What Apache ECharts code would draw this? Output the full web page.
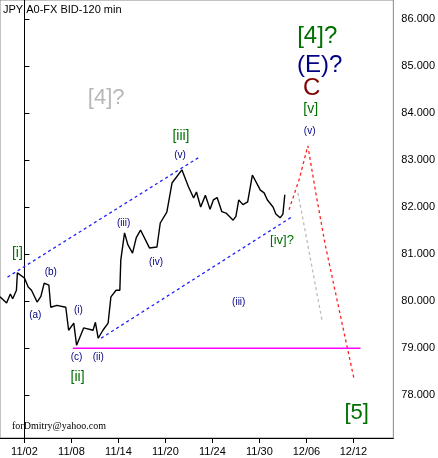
<!DOCTYPE html>
<html><head><meta charset="utf-8">
<script src="https://cdn.jsdelivr.net/npm/echarts@6/dist/echarts.min.js"></script>
<style>html,body{margin:0;padding:0;background:#fff}#c{width:438px;height:458px}</style>
</head><body><div id="c"></div>
<script>
// x is in "date label slots": 0 = 11/02, 1 = 11/08, ...
const dateLabels = ['11/02', '11/08', '11/14', '11/20', '11/24', '11/30', '12/06', '12/12']
const priceTicks = [78, 79, 80, 81, 82, 83, 84, 85, 86]

const priceX = [-0.52,-0.38,-0.3,-0.25,-0.17,-0.15,0,0.08,0.15,0.27,0.35,0.42,0.52,0.56,0.69,0.88,0.94,1.05,1.11,1.26,1.46,1.51,1.57,1.67,1.78,1.84,1.95,2.03,2.05,2.13,2.2,2.30,2.38,2.47,2.66,2.82,2.89,3.03,3.14,3.35,3.49,3.60,3.66,3.75,3.85,3.95,4.02,4.1,4.2,4.29,4.44,4.5,4.56,4.65,4.75,4.85,5.02,5.1,5.17,5.29,5.35,5.44,5.50,5.54]
const priceY = [80.09,79.96,80.15,80.05,80.23,80.6,80.49,80.3,80.23,79.98,80.1,80.38,80.34,79.87,79.91,79.87,79.38,79.53,79.06,79.43,79.38,79.55,79.21,79.38,79.53,80.09,80.23,80.23,80.87,81.45,81.2,81.02,81.35,81.51,81.13,81.15,81.66,81.89,82.51,82.79,82.43,82.19,82.32,82.0,82.25,81.95,82.15,82.2,81.9,81.87,81.72,81.8,82.15,82.05,82.11,82.68,82.36,82.3,82.15,82.0,81.85,81.77,81.85,82.26]

const upperChannel = [[-0.36, 80.51], [3.72, 83.06]]
const lowerChannel = [[1.63, 79.21], [5.69, 81.79]]
const supportLine = [[1.03, 79.0], [7.15, 79.0]]
const redPath = [[5.63,81.94],[5.85,82.6],[6.03,83.3],[6.2,82.3],[6.4,81.2],[6.7,79.8],[7.01,78.36]]
const grayPath = [[5.82, 82.3], [6.34, 79.55]]

const GREEN = '#007000', NAVY = '#000080', GRAY = '#b8b8b8', DARKRED = '#800000'
const waveLabels = [
  ['[i]', -0.15, 81.02, GREEN, 14],
  ['(a)', 0.23, 79.70, NAVY, 10],
  ['(b)', 0.56, 80.62, NAVY, 10],
  ['(c)', 1.11, 78.81, NAVY, 10],
  ['[ii]', 1.13, 78.38, GREEN, 14],
  ['(i)', 1.15, 79.81, NAVY, 10],
  ['(ii)', 1.57, 78.81, NAVY, 10],
  ['(iii)', 2.11, 81.66, NAVY, 10],
  ['(iv)', 2.80, 80.83, NAVY, 10],
  ['(v)', 3.31, 83.09, NAVY, 10],
  ['[iii]', 3.33, 83.51, GREEN, 14],
  ['[4]?', 1.74, 84.32, GRAY, 22],
  ['(iii)', 4.56, 79.98, NAVY, 10],
  ['[iv]?', 5.48, 81.28, GREEN, 13],
  ['(v)', 6.07, 83.62, NAVY, 10],
  ['[v]', 6.09, 84.09, GREEN, 14],
  ['C', 6.11, 84.53, DARKRED, 24],
  ['(E)?', 6.28, 85.02, NAVY, 24],
  ['[4]?', 6.23, 85.62, GREEN, 24],
  ['[5]', 7.07, 77.62, GREEN, 22]
]

const chart = echarts.init(document.getElementById('c'))
const dashed = (data, color) => ({
  type: 'line', data, symbol: 'none', silent: true,
  lineStyle: { color, width: 1.3, type: [3, 3] }
})
chart.setOption({
  animation: false,
  textStyle: { fontFamily: 'Liberation Sans' },
  grid: { left: 0, top: 0, right: 38, bottom: 20, show: true, borderColor: '#888', borderWidth: 1 },
  xAxis: {
    type: 'value', min: -0.52, max: 7.85,
    splitLine: { show: false },
    axisLine: { lineStyle: { color: '#000' } },
    axisTick: { customValues: [0,1,2,3,4,5,6,7], lineStyle: { color: '#000' } },
    axisLabel: { customValues: [0,1,2,3,4,5,6,7], color: '#000', fontSize: 11,
      formatter: v => dateLabels[Math.round(v)] }
  },
  yAxis: {
    type: 'value', position: 'right', min: 77.09, max: 86.4,
    splitLine: { show: false },
    axisLine: { show: true, lineStyle: { color: '#000' } },
    axisTick: { customValues: priceTicks, lineStyle: { color: '#000' } },
    axisLabel: { customValues: priceTicks, color: '#000', fontSize: 11,
      formatter: v => v.toFixed(3) }
  },
  graphic: [
    { type: 'text', left: 3, top: 4, style: { text: 'JPY A0-FX BID-120 min', font: '11px Liberation Sans', fill: '#000' } },
    { type: 'text', left: 12, top: 421, style: { text: 'forDmitry@yahoo.com', font: '10px Liberation Serif', fill: '#000' } }
  ],
  series: [
    { type: 'line', data: priceX.map((x, i) => [x, priceY[i]]), symbol: 'none',
      lineStyle: { color: '#000', width: 1.4 } },
    dashed(upperChannel, '#2020ff'),
    dashed(lowerChannel, '#2020ff'),
    dashed(redPath, '#ff2020'),
    dashed(grayPath, '#bbb'),
    { type: 'line', data: supportLine, symbol: 'none', lineStyle: { color: '#ff00ff', width: 1.5 } },
    { type: 'scatter', symbolSize: 0, silent: true, z: 10,
      data: waveLabels.map(w => ({ value: [w[1], w[2]],
        label: { show: true, position: 'inside', formatter: w[0], color: w[3], fontSize: w[4],
          textBorderWidth: 0, opacity: 1 } })) }
  ]
})
</script></body></html>
